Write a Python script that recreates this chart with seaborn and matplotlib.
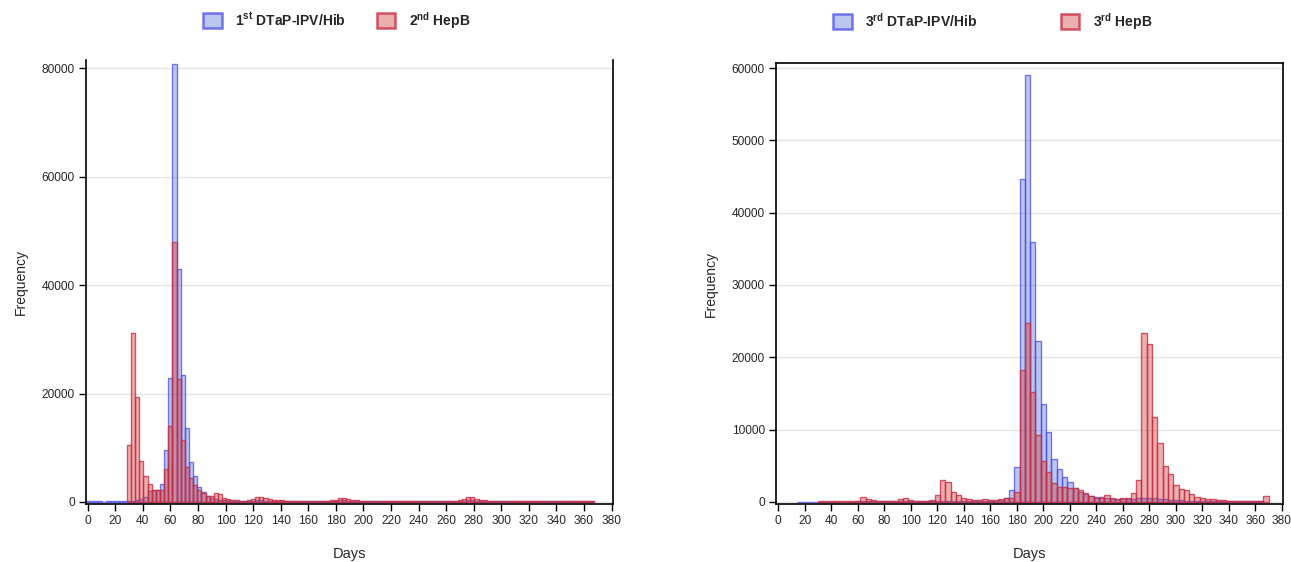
import numpy as np
import matplotlib
matplotlib.use("Agg")
import matplotlib.pyplot as plt
from matplotlib.patches import Patch
import seaborn as sns

sns.set_theme(style="white")
plt.rcParams["font.family"] = ["Liberation Sans", "DejaVu Sans"]
plt.rcParams["mathtext.fontset"] = "custom"
plt.rcParams["mathtext.rm"] = "Liberation Sans"
plt.rcParams["mathtext.bf"] = "Liberation Sans:bold"

# ---- left panel: 3-day bins, centres at 0, 3, ..., 366 ----
left_days = np.arange(0, 367, 3)
left_width = 3

dtap1_counts = [
    150, 150, 150, 150, 60, 150, 150, 150, 150, 150,            # 0-27
    200, 200, 300, 500, 1000, 2000, 2200, 2300, 3300, 9600,     # 30-57
    22900, 80800, 43000, 23500, 13700, 7300, 4800, 2700, 1800, 1100,  # 60-87
    800, 600, 450, 350, 300, 250, 220, 200, 200, 200,           # 90-117
    220, 300, 280, 240, 200, 180, 180, 170, 180, 180,           # 120-147
    170, 180, 180, 170, 180, 180, 170, 180, 180, 170,           # 150-177
    220, 350, 330, 260, 200, 180, 180, 170, 180, 170,           # 180-207
    180, 170, 180, 180, 170, 180, 170, 180, 180, 170,           # 210-237
    180, 170, 180, 180, 170, 180, 170, 180, 180, 170,           # 240-267
    200, 260, 300, 280, 230, 170, 170, 160, 170, 160,           # 270-297
    170, 160, 170, 160, 160, 170, 160, 160, 150, 160,           # 300-327
    150, 160, 150, 150, 160, 150, 150, 140, 150, 140,           # 330-357
    140, 130, 120,                                              # 360-366
]

hepb2_counts = [
    0, 0, 0, 0, 0, 0, 0, 0, 0, 0,                               # 0-27
    10500, 31100, 19300, 7500, 4800, 3300, 2300, 2200, 2300, 6000,  # 30-57
    14000, 47900, 22600, 11500, 6500, 4500, 3200, 2300, 1700, 1100,  # 60-87
    1100, 1700, 1400, 800, 500, 400, 300, 250, 250, 350,        # 90-117
    600, 1000, 900, 700, 500, 400, 350, 300, 260, 250,          # 120-147
    250, 240, 250, 250, 240, 250, 250, 240, 250, 280,           # 150-177
    420, 700, 720, 520, 400, 320, 260, 250, 250, 240,           # 180-207
    250, 250, 240, 250, 250, 240, 250, 250, 240, 250,           # 210-237
    250, 240, 250, 250, 240, 250, 250, 240, 250, 260,           # 240-267
    320, 600, 1000, 850, 620, 420, 320, 260, 240, 230,          # 270-297
    230, 220, 220, 220, 210, 210, 200, 200, 200, 190,           # 300-327
    190, 190, 180, 180, 180, 170, 170, 170, 160, 160,           # 330-357
    160, 150, 150,                                              # 360-366
]

# ---- right panel: 4-day bins, centres at 0, 4, ..., 368 ----
right_days = np.arange(0, 369, 4)
right_width = 4

dtap3_counts = [
    0, 0, 0, 0, 60, 60, 60, 60, 60, 60,                         # 0-36
    60, 60, 60, 60, 60, 80, 80, 80, 80, 80,                     # 40-76
    80, 80, 100, 150, 150, 120, 100, 100, 100, 100,             # 80-116
    100, 100, 100, 100, 100, 100, 120, 120, 150, 150,           # 120-156
    200, 200, 250, 500, 1600, 4900, 44700, 59000, 35900, 22300,  # 160-196
    13500, 9700, 6000, 4500, 3500, 2700, 1900, 1400, 1100, 800,  # 200-236
    700, 600, 500, 450, 400, 350, 350, 400, 500, 600,           # 240-276
    600, 500, 400, 350, 300, 250, 250, 200, 200, 200,           # 280-316
    180, 180, 150, 150, 130, 120, 120, 100, 100, 100,           # 320-356
    100, 80, 0,                                                 # 360-368
]

hepb3_counts = [
    0, 0, 0, 0, 0, 0, 0, 0, 100, 100,                           # 0-36
    120, 100, 100, 100, 120, 200, 700, 450, 250, 180,           # 40-76
    120, 100, 150, 450, 500, 300, 150, 120, 150, 300,           # 80-116
    900, 3000, 2800, 1400, 900, 550, 400, 300, 300, 350,        # 120-156
    300, 300, 400, 600, 500, 1400, 18300, 24700, 15200, 9300,   # 160-196
    5600, 4100, 2600, 2100, 2100, 2000, 2000, 1700, 1200, 800,  # 200-236
    500, 700, 900, 600, 450, 500, 600, 1200, 3100, 23400,       # 240-276
    21800, 11700, 8200, 5000, 3900, 2400, 1800, 1600, 1100, 700,  # 280-316
    500, 400, 350, 300, 250, 200, 200, 150, 150, 120,           # 320-356
    100, 100, 800,                                              # 360-368
]

left_labels = [r"1$^{\mathbf{st}}$ DTaP-IPV/Hib", r"2$^{\mathbf{nd}}$ HepB"]
right_labels = [r"3$^{\mathbf{rd}}$ DTaP-IPV/Hib", r"3$^{\mathbf{rd}}$ HepB"]

BLUE_FACE = (0.20, 0.32, 0.82, 0.33)
BLUE_EDGE = (0.30, 0.30, 0.90, 0.75)
RED_FACE = (0.82, 0.22, 0.22, 0.40)
RED_EDGE = (0.78, 0.18, 0.26, 0.80)


def draw_hist(ax, days, counts, width, face, edge):
    days = np.asarray(days)
    counts = np.asarray(counts, dtype=float)
    keep = counts > 0
    d = days[keep]
    sns.histplot(
        x=d, weights=counts[keep], binwidth=width,
        binrange=(d.min() - width / 2, d.max() + width / 2),
        element="bars", fill=True, facecolor=face, edgecolor=edge,
        linewidth=1.0, ax=ax,
    )


def style_axes(ax, ymax_tick, ystep, xlim, ylim, top_spine):
    ax.set_xlim(*xlim)
    ax.set_ylim(*ylim)
    ax.set_xticks(np.arange(0, 381, 20))
    ax.set_yticks(np.arange(0, ymax_tick + 1, ystep))
    ax.tick_params(axis="both", which="major", direction="out", length=5, width=1,
                   color="black", labelsize=8.6, bottom=True, left=True, pad=3)
    ax.yaxis.grid(True, color="#e4e4e4", linewidth=1.0)
    ax.xaxis.grid(False)
    ax.set_axisbelow(True)
    for side in ["left", "bottom", "right", "top"]:
        ax.spines[side].set_color("black")
        ax.spines[side].set_linewidth(1.2)
    ax.spines["top"].set_visible(top_spine)
    ax.set_xlabel("Days", fontsize=10.5, labelpad=14)
    ax.set_ylabel("Frequency", fontsize=10, labelpad=10)


fig = plt.figure(figsize=(12.91, 5.62), dpi=100)
ax1 = fig.add_axes([0.0666, 0.1032, 0.4082, 0.7900])
ax2 = fig.add_axes([0.6011, 0.1032, 0.3927, 0.7847])

draw_hist(ax1, left_days, dtap1_counts, left_width, BLUE_FACE, BLUE_EDGE)
draw_hist(ax1, left_days, hepb2_counts, left_width, RED_FACE, RED_EDGE)
draw_hist(ax2, right_days, dtap3_counts, right_width, BLUE_FACE, BLUE_EDGE)
draw_hist(ax2, right_days, hepb3_counts, right_width, RED_FACE, RED_EDGE)

style_axes(ax1, 80000, 20000, (-1.2, 381), (-370, 81475), top_spine=False)
style_axes(ax2, 60000, 10000, (-1.7, 380.8), (-280, 60694), top_spine=True)


def legend_handles():
    return [Patch(facecolor=BLUE_FACE, edgecolor=BLUE_EDGE, linewidth=1.8),
            Patch(facecolor=RED_FACE, edgecolor=RED_EDGE, linewidth=1.8)]


leg_kw = dict(loc="center", bbox_transform=fig.transFigure, ncol=2, frameon=False,
              prop={"weight": "bold", "size": 10}, handlelength=1.3,
              handleheight=1.3, handletextpad=1.0)
ax1.legend(legend_handles(), left_labels, bbox_to_anchor=(0.261, 0.964),
           columnspacing=2.2, **leg_kw)
ax2.legend(legend_handles(), right_labels, bbox_to_anchor=(0.769, 0.962),
           columnspacing=6.0, **leg_kw)

fig.savefig("out.png", dpi=100, facecolor="white")
